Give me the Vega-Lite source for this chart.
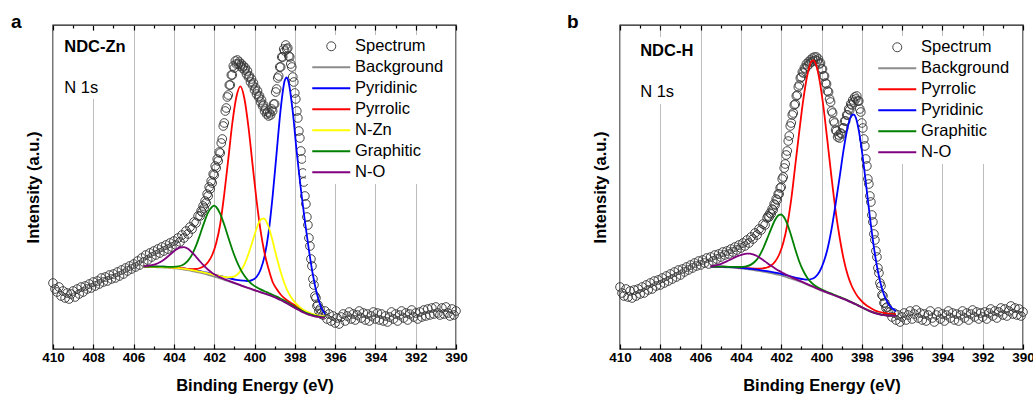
{
"$schema": "https://vega.github.io/schema/vega-lite/v6.json",
"padding": {"left": 10, "top": 12, "right": 0, "bottom": 0},
"bounds": "flush",
"spacing": 164,
"config": {
  "font": "Liberation Sans",
  "view": {"stroke": "#1a1a1a", "strokeWidth": 1.4},
  "title": {"color": "#000"}
},
"resolve": {"scale": {"x": "independent", "y": "independent", "color": "independent"}, "legend": {"color": "independent"}, "axis": {"x": "independent", "y": "independent"}},
"datasets": {
"specA": [
{"E":410.0,"I":66},{"E":409.9,"I":60},{"E":409.8,"I":57},{"E":409.7,"I":62},{"E":409.6,"I":53},{"E":409.5,"I":58},{"E":409.4,"I":51},{"E":409.3,"I":56},{"E":409.2,"I":50},{"E":409.1,"I":55},
{"E":409.0,"I":58},{"E":408.9,"I":52},{"E":408.8,"I":60},{"E":408.7,"I":55},{"E":408.6,"I":62},{"E":408.5,"I":57},{"E":408.4,"I":63},{"E":408.3,"I":60},{"E":408.2,"I":65},{"E":408.1,"I":61},
{"E":408.0,"I":67},{"E":407.9,"I":63},{"E":407.8,"I":68},{"E":407.7,"I":65},{"E":407.6,"I":71},{"E":407.5,"I":67},{"E":407.4,"I":72},{"E":407.3,"I":68},{"E":407.2,"I":74},{"E":407.1,"I":70},
{"E":407.0,"I":75},{"E":406.9,"I":71},{"E":406.8,"I":77},{"E":406.7,"I":73},{"E":406.6,"I":79},{"E":406.5,"I":75},{"E":406.4,"I":81},{"E":406.3,"I":78},{"E":406.2,"I":83},{"E":406.1,"I":80},
{"E":406.0,"I":85},{"E":405.9,"I":82},{"E":405.8,"I":88},{"E":405.7,"I":84},{"E":405.6,"I":91},{"E":405.5,"I":87},{"E":405.4,"I":94},{"E":405.3,"I":89},{"E":405.2,"I":96},{"E":405.1,"I":92},
{"E":405.0,"I":98},{"E":404.9,"I":94},{"E":404.8,"I":100},{"E":404.7,"I":96},{"E":404.6,"I":102},{"E":404.5,"I":98},{"E":404.4,"I":104},{"E":404.3,"I":100},{"E":404.2,"I":106},{"E":404.1,"I":102},
{"E":404.0,"I":108},{"E":403.9,"I":104},{"E":403.8,"I":111},{"E":403.7,"I":107},{"E":403.6,"I":114},{"E":403.5,"I":111},{"E":403.4,"I":118},{"E":403.3,"I":115},{"E":403.2,"I":122},{"E":403.1,"I":120},
{"E":403.0,"I":127},{"E":402.9,"I":126},{"E":402.8,"I":133},{"E":402.7,"I":133},
{"E":402.65,"I":138},{"E":402.6,"I":137},{"E":402.55,"I":143},{"E":402.5,"I":141},{"E":402.45,"I":148},{"E":402.4,"I":146},{"E":402.35,"I":155},{"E":402.3,"I":153},{"E":402.25,"I":162},{"E":402.2,"I":160},
{"E":402.15,"I":168},{"E":402.1,"I":166},{"E":402.05,"I":175},{"E":402.0,"I":174},{"E":401.95,"I":183},{"E":401.9,"I":181},{"E":401.85,"I":190},{"E":401.8,"I":188},{"E":401.75,"I":197},{"E":401.7,"I":196},
{"E":401.65,"I":206},{"E":401.6,"I":210},{"E":401.55,"I":223},{"E":401.5,"I":226},{"E":401.45,"I":238},{"E":401.4,"I":241},{"E":401.35,"I":252},{"E":401.3,"I":254},{"E":401.25,"I":264},{"E":401.2,"I":264},
{"E":401.15,"I":274},{"E":401.1,"I":274},{"E":401.05,"I":283},{"E":401.0,"I":281},{"E":400.95,"I":288},{"E":400.9,"I":285},{"E":400.85,"I":289},{"E":400.8,"I":285},{"E":400.75,"I":287},{"E":400.7,"I":283},
{"E":400.65,"I":285},{"E":400.6,"I":281},{"E":400.55,"I":283},{"E":400.5,"I":279},{"E":400.45,"I":281},{"E":400.4,"I":275},{"E":400.35,"I":278},{"E":400.3,"I":272},{"E":400.25,"I":273},{"E":400.2,"I":267},
{"E":400.15,"I":270},{"E":400.1,"I":264},{"E":400.05,"I":266},{"E":400.0,"I":259},{"E":399.95,"I":261},{"E":399.9,"I":255},{"E":399.85,"I":258},{"E":399.8,"I":252},{"E":399.75,"I":253},{"E":399.7,"I":247},
{"E":399.65,"I":249},{"E":399.6,"I":243},{"E":399.55,"I":244},{"E":399.5,"I":238},{"E":399.45,"I":240},{"E":399.4,"I":235},{"E":399.35,"I":237},{"E":399.3,"I":233},{"E":399.25,"I":236},{"E":399.2,"I":234},
{"E":399.15,"I":240},{"E":399.1,"I":238},{"E":399.05,"I":245},{"E":399.0,"I":245},{"E":398.95,"I":257},{"E":398.9,"I":260},{"E":398.85,"I":271},{"E":398.8,"I":273},{"E":398.75,"I":282},{"E":398.7,"I":282},
{"E":398.65,"I":292},{"E":398.6,"I":292},{"E":398.55,"I":300},{"E":398.5,"I":298},{"E":398.45,"I":304},{"E":398.4,"I":300},{"E":398.35,"I":301},{"E":398.3,"I":293},{"E":398.25,"I":292},{"E":398.2,"I":285},
{"E":398.15,"I":282},{"E":398.1,"I":272},{"E":398.05,"I":267},{"E":398.0,"I":256},{"E":397.95,"I":250},{"E":397.9,"I":238},{"E":397.85,"I":231},{"E":397.8,"I":218},{"E":397.75,"I":211},{"E":397.7,"I":198},
{"E":397.65,"I":190},{"E":397.6,"I":176},{"E":397.55,"I":167},{"E":397.5,"I":153},{"E":397.45,"I":145},{"E":397.4,"I":132},{"E":397.35,"I":124},{"E":397.3,"I":111},{"E":397.25,"I":103},{"E":397.2,"I":90},
{"E":397.15,"I":83},{"E":397.1,"I":70},{"E":397.05,"I":64},{"E":397.0,"I":53},{"E":396.95,"I":51},{"E":396.9,"I":43},{"E":396.85,"I":44},{"E":396.8,"I":38},{"E":396.75,"I":40},{"E":396.7,"I":35},
{"E":396.6,"I":34},{"E":396.5,"I":38},{"E":396.4,"I":30},{"E":396.3,"I":35},{"E":396.2,"I":28},{"E":396.1,"I":33},{"E":396.0,"I":26},{"E":395.9,"I":31},{"E":395.8,"I":25},{"E":395.7,"I":32},
{"E":395.6,"I":35},{"E":395.5,"I":28},{"E":395.4,"I":33},{"E":395.3,"I":37},{"E":395.2,"I":30},{"E":395.1,"I":35},{"E":395.0,"I":29},{"E":394.9,"I":34},{"E":394.8,"I":38},{"E":394.7,"I":31},
{"E":394.6,"I":36},{"E":394.5,"I":29},{"E":394.4,"I":35},{"E":394.3,"I":28},{"E":394.2,"I":33},{"E":394.1,"I":37},{"E":394.0,"I":30},{"E":393.9,"I":36},{"E":393.8,"I":29},{"E":393.7,"I":35},
{"E":393.6,"I":28},{"E":393.5,"I":33},{"E":393.4,"I":27},{"E":393.3,"I":32},{"E":393.2,"I":37},{"E":393.1,"I":30},{"E":393.0,"I":35},{"E":392.9,"I":28},{"E":392.8,"I":34},{"E":392.7,"I":38},
{"E":392.6,"I":31},{"E":392.5,"I":36},{"E":392.4,"I":29},{"E":392.3,"I":35},{"E":392.2,"I":39},{"E":392.1,"I":32},{"E":392.0,"I":36},{"E":391.9,"I":30},{"E":391.8,"I":37},{"E":391.7,"I":32},
{"E":391.6,"I":39},{"E":391.5,"I":33},{"E":391.4,"I":40},{"E":391.3,"I":34},{"E":391.2,"I":41},{"E":391.1,"I":35},{"E":391.0,"I":42},{"E":390.9,"I":36},{"E":390.8,"I":34},{"E":390.7,"I":41},
{"E":390.6,"I":35},{"E":390.5,"I":42},{"E":390.4,"I":36},{"E":390.3,"I":33},{"E":390.2,"I":40},{"E":390.1,"I":34},{"E":390.0,"I":38}
],
"fitA": [
{"s":"Background","E":405.5,"I":82.0},{"s":"Background","E":405.3,"I":82.0},{"s":"Background","E":405.1,"I":81.9},{"s":"Background","E":404.9,"I":81.8},{"s":"Background","E":404.7,"I":81.7},{"s":"Background","E":404.5,"I":81.5},{"s":"Background","E":404.3,"I":81.3},{"s":"Background","E":404.1,"I":81.0},{"s":"Background","E":403.9,"I":80.6},{"s":"Background","E":403.7,"I":80.1},{"s":"Background","E":403.5,"I":79.5},{"s":"Background","E":403.3,"I":78.8},{"s":"Background","E":403.1,"I":78.0},{"s":"Background","E":402.9,"I":77.2},{"s":"Background","E":402.7,"I":76.3},{"s":"Background","E":402.5,"I":75.3},{"s":"Background","E":402.3,"I":74.2},{"s":"Background","E":402.1,"I":73.0},{"s":"Background","E":401.9,"I":71.8},{"s":"Background","E":401.7,"I":70.5},{"s":"Background","E":401.5,"I":69.2},{"s":"Background","E":401.3,"I":67.8},{"s":"Background","E":401.1,"I":66.4},{"s":"Background","E":400.9,"I":65.0},{"s":"Background","E":400.7,"I":63.6},{"s":"Background","E":400.5,"I":62.2},{"s":"Background","E":400.3,"I":60.8},{"s":"Background","E":400.1,"I":59.4},{"s":"Background","E":399.9,"I":58.0},{"s":"Background","E":399.7,"I":56.7},{"s":"Background","E":399.5,"I":55.4},{"s":"Background","E":399.3,"I":54.0},{"s":"Background","E":399.1,"I":52.5},{"s":"Background","E":398.9,"I":50.8},{"s":"Background","E":398.7,"I":48.9},{"s":"Background","E":398.5,"I":46.8},{"s":"Background","E":398.3,"I":44.6},{"s":"Background","E":398.1,"I":42.3},{"s":"Background","E":397.9,"I":40.0},{"s":"Background","E":397.7,"I":37.8},{"s":"Background","E":397.5,"I":35.9},{"s":"Background","E":397.3,"I":34.3},{"s":"Background","E":397.1,"I":33.1},{"s":"Background","E":396.9,"I":32.2},{"s":"Background","E":396.7,"I":31.6},{"s":"Background","E":396.5,"I":31.3},
{"s":"Pyridinic","E":405.5,"I":82.5},{"s":"Pyridinic","E":405.3,"I":82.5},{"s":"Pyridinic","E":405.1,"I":82.5},{"s":"Pyridinic","E":404.9,"I":82.4},{"s":"Pyridinic","E":404.7,"I":82.4},{"s":"Pyridinic","E":404.5,"I":82.25},{"s":"Pyridinic","E":404.3,"I":82.1},{"s":"Pyridinic","E":404.1,"I":81.85},{"s":"Pyridinic","E":403.9,"I":81.5},{"s":"Pyridinic","E":403.7,"I":81.1},{"s":"Pyridinic","E":403.5,"I":80.55},{"s":"Pyridinic","E":403.3,"I":79.9},{"s":"Pyridinic","E":403.1,"I":79.2},{"s":"Pyridinic","E":402.9,"I":78.55},{"s":"Pyridinic","E":402.7,"I":77.8},{"s":"Pyridinic","E":402.5,"I":76.9},{"s":"Pyridinic","E":402.3,"I":76.0},{"s":"Pyridinic","E":402.1,"I":75.0},{"s":"Pyridinic","E":401.9,"I":74.0},{"s":"Pyridinic","E":401.7,"I":73.0},{"s":"Pyridinic","E":401.5,"I":72.0},{"s":"Pyridinic","E":401.3,"I":71.0},{"s":"Pyridinic","E":401.1,"I":70.0},{"s":"Pyridinic","E":400.9,"I":69.2},{"s":"Pyridinic","E":400.7,"I":68.6},{"s":"Pyridinic","E":400.5,"I":68.3},{"s":"Pyridinic","E":400.3,"I":68.0},{"s":"Pyridinic","E":400.1,"I":69.1},{"s":"Pyridinic","E":399.9,"I":72.0},{"s":"Pyridinic","E":399.7,"I":79.3},{"s":"Pyridinic","E":399.5,"I":92.9},{"s":"Pyridinic","E":399.3,"I":116.6},{"s":"Pyridinic","E":399.1,"I":152.8},{"s":"Pyridinic","E":398.9,"I":196.7},{"s":"Pyridinic","E":398.7,"I":240.1},{"s":"Pyridinic","E":398.5,"I":268.5},{"s":"Pyridinic","E":398.4,"I":271.7},{"s":"Pyridinic","E":398.3,"I":266},{"s":"Pyridinic","E":398.1,"I":237},{"s":"Pyridinic","E":397.9,"I":196},{"s":"Pyridinic","E":397.7,"I":160},{"s":"Pyridinic","E":397.5,"I":128},{"s":"Pyridinic","E":397.3,"I":99},{"s":"Pyridinic","E":397.1,"I":74},{"s":"Pyridinic","E":396.9,"I":55},{"s":"Pyridinic","E":396.7,"I":42},{"s":"Pyridinic","E":396.5,"I":35},
{"s":"Pyrrolic","E":405.5,"I":82.5},{"s":"Pyrrolic","E":405.3,"I":82.5},{"s":"Pyrrolic","E":405.1,"I":82.4},{"s":"Pyrrolic","E":404.9,"I":82.3},{"s":"Pyrrolic","E":404.7,"I":82.2},{"s":"Pyrrolic","E":404.5,"I":82.0},{"s":"Pyrrolic","E":404.3,"I":81.8},{"s":"Pyrrolic","E":404.1,"I":81.6},{"s":"Pyrrolic","E":403.9,"I":81.3},{"s":"Pyrrolic","E":403.7,"I":81.0},{"s":"Pyrrolic","E":403.5,"I":80.6},{"s":"Pyrrolic","E":403.3,"I":80.2},{"s":"Pyrrolic","E":403.1,"I":79.9},{"s":"Pyrrolic","E":402.9,"I":80.0},{"s":"Pyrrolic","E":402.7,"I":81.0},{"s":"Pyrrolic","E":402.5,"I":83.0},{"s":"Pyrrolic","E":402.3,"I":87.0},{"s":"Pyrrolic","E":402.1,"I":94.0},{"s":"Pyrrolic","E":401.9,"I":106},{"s":"Pyrrolic","E":401.7,"I":125},{"s":"Pyrrolic","E":401.5,"I":155},{"s":"Pyrrolic","E":401.3,"I":190},{"s":"Pyrrolic","E":401.1,"I":226},{"s":"Pyrrolic","E":400.9,"I":252},{"s":"Pyrrolic","E":400.7,"I":262.6},{"s":"Pyrrolic","E":400.5,"I":250.2},{"s":"Pyrrolic","E":400.3,"I":222},{"s":"Pyrrolic","E":400.1,"I":185.2},{"s":"Pyrrolic","E":399.9,"I":149},{"s":"Pyrrolic","E":399.7,"I":118.4},{"s":"Pyrrolic","E":399.5,"I":95.8},{"s":"Pyrrolic","E":399.3,"I":79.9},{"s":"Pyrrolic","E":399.1,"I":67},{"s":"Pyrrolic","E":398.9,"I":60},{"s":"Pyrrolic","E":398.7,"I":54.5},{"s":"Pyrrolic","E":398.5,"I":50.5},{"s":"Pyrrolic","E":398.3,"I":47.5},{"s":"Pyrrolic","E":398.1,"I":45},{"s":"Pyrrolic","E":397.9,"I":42.5},{"s":"Pyrrolic","E":397.7,"I":40},{"s":"Pyrrolic","E":397.5,"I":37.8},{"s":"Pyrrolic","E":397.3,"I":36},{"s":"Pyrrolic","E":397.1,"I":34.5},{"s":"Pyrrolic","E":396.9,"I":33.4},{"s":"Pyrrolic","E":396.7,"I":32.5},{"s":"Pyrrolic","E":396.5,"I":32},
{"s":"N-Zn","E":405.5,"I":82.3},{"s":"N-Zn","E":405.3,"I":82.3},{"s":"N-Zn","E":405.1,"I":82.2},{"s":"N-Zn","E":404.9,"I":82.1},{"s":"N-Zn","E":404.7,"I":82.0},{"s":"N-Zn","E":404.5,"I":81.9},{"s":"N-Zn","E":404.3,"I":81.7},{"s":"N-Zn","E":404.1,"I":81.5},{"s":"N-Zn","E":403.9,"I":81.2},{"s":"N-Zn","E":403.7,"I":80.7},{"s":"N-Zn","E":403.5,"I":80.2},{"s":"N-Zn","E":403.3,"I":79.6},{"s":"N-Zn","E":403.1,"I":78.9},{"s":"N-Zn","E":402.9,"I":78.2},{"s":"N-Zn","E":402.7,"I":77.4},{"s":"N-Zn","E":402.5,"I":76.5},{"s":"N-Zn","E":402.3,"I":75.6},{"s":"N-Zn","E":402.1,"I":74.6},{"s":"N-Zn","E":401.9,"I":73.8},{"s":"N-Zn","E":401.7,"I":72.8},{"s":"N-Zn","E":401.5,"I":72.0},{"s":"N-Zn","E":401.3,"I":71.6},{"s":"N-Zn","E":401.1,"I":72.0},{"s":"N-Zn","E":400.9,"I":73.7},{"s":"N-Zn","E":400.7,"I":77.9},{"s":"N-Zn","E":400.5,"I":84.7},{"s":"N-Zn","E":400.3,"I":95.0},{"s":"N-Zn","E":400.1,"I":107.4},{"s":"N-Zn","E":399.9,"I":120.2},{"s":"N-Zn","E":399.7,"I":129.2},{"s":"N-Zn","E":399.55,"I":130.5},{"s":"N-Zn","E":399.5,"I":130.1},{"s":"N-Zn","E":399.3,"I":122.2},{"s":"N-Zn","E":399.1,"I":108.0},{"s":"N-Zn","E":398.9,"I":91.7},{"s":"N-Zn","E":398.7,"I":77.0},{"s":"N-Zn","E":398.5,"I":64.8},{"s":"N-Zn","E":398.3,"I":55.7},{"s":"N-Zn","E":398.1,"I":49.4},{"s":"N-Zn","E":397.9,"I":44.5},{"s":"N-Zn","E":397.7,"I":41.1},{"s":"N-Zn","E":397.5,"I":38.4},{"s":"N-Zn","E":397.3,"I":36.4},{"s":"N-Zn","E":397.1,"I":34.8},{"s":"N-Zn","E":396.9,"I":33.7},{"s":"N-Zn","E":396.7,"I":32.9},{"s":"N-Zn","E":396.5,"I":32.5},
{"s":"Graphitic","E":405.5,"I":82.4},{"s":"Graphitic","E":405.3,"I":82.4},{"s":"Graphitic","E":405.1,"I":82.4},{"s":"Graphitic","E":404.9,"I":82.4},{"s":"Graphitic","E":404.7,"I":82.4},{"s":"Graphitic","E":404.5,"I":82.3},{"s":"Graphitic","E":404.3,"I":82.2},{"s":"Graphitic","E":404.1,"I":82.2},{"s":"Graphitic","E":403.9,"I":82.4},{"s":"Graphitic","E":403.7,"I":83.0},{"s":"Graphitic","E":403.5,"I":84.8},{"s":"Graphitic","E":403.3,"I":88.4},{"s":"Graphitic","E":403.1,"I":94.4},{"s":"Graphitic","E":402.9,"I":103.3},{"s":"Graphitic","E":402.7,"I":114.5},{"s":"Graphitic","E":402.5,"I":126.4},{"s":"Graphitic","E":402.3,"I":136.6},{"s":"Graphitic","E":402.1,"I":142.2},{"s":"Graphitic","E":402.0,"I":143.4},{"s":"Graphitic","E":401.9,"I":142},{"s":"Graphitic","E":401.7,"I":135.1},{"s":"Graphitic","E":401.5,"I":124.2},{"s":"Graphitic","E":401.3,"I":111.5},{"s":"Graphitic","E":401.1,"I":99.3},{"s":"Graphitic","E":400.9,"I":88.6},{"s":"Graphitic","E":400.7,"I":79.9},{"s":"Graphitic","E":400.5,"I":73.2},{"s":"Graphitic","E":400.3,"I":68.2},{"s":"Graphitic","E":400.1,"I":64.4},{"s":"Graphitic","E":399.9,"I":61.8},{"s":"Graphitic","E":399.7,"I":59.6},{"s":"Graphitic","E":399.5,"I":57.7},{"s":"Graphitic","E":399.3,"I":56},{"s":"Graphitic","E":399.1,"I":54.3},{"s":"Graphitic","E":398.9,"I":52.4},{"s":"Graphitic","E":398.7,"I":50.3},{"s":"Graphitic","E":398.5,"I":48.1},{"s":"Graphitic","E":398.3,"I":45.8},{"s":"Graphitic","E":398.1,"I":43.4},{"s":"Graphitic","E":397.9,"I":41},{"s":"Graphitic","E":397.7,"I":38.7},{"s":"Graphitic","E":397.5,"I":36.7},{"s":"Graphitic","E":397.3,"I":35.1},{"s":"Graphitic","E":397.1,"I":33.8},{"s":"Graphitic","E":396.9,"I":32.9},{"s":"Graphitic","E":396.7,"I":32.2},{"s":"Graphitic","E":396.5,"I":31.9},
{"s":"N-O","E":405.5,"I":82.7},{"s":"N-O","E":405.3,"I":83.1},{"s":"N-O","E":405.1,"I":83.8},{"s":"N-O","E":404.9,"I":84.9},{"s":"N-O","E":404.7,"I":86.7},{"s":"N-O","E":404.5,"I":89.3},{"s":"N-O","E":404.3,"I":92.5},{"s":"N-O","E":404.1,"I":96},{"s":"N-O","E":403.9,"I":99.2},{"s":"N-O","E":403.7,"I":101.5},{"s":"N-O","E":403.5,"I":101.9},{"s":"N-O","E":403.3,"I":100.2},{"s":"N-O","E":403.1,"I":96.6},{"s":"N-O","E":402.9,"I":92.2},{"s":"N-O","E":402.7,"I":87.5},{"s":"N-O","E":402.5,"I":83.1},{"s":"N-O","E":402.3,"I":79.2},{"s":"N-O","E":402.1,"I":76.1},{"s":"N-O","E":401.9,"I":73.7},{"s":"N-O","E":401.7,"I":71.6},{"s":"N-O","E":401.5,"I":69.9},{"s":"N-O","E":401.3,"I":68.3},{"s":"N-O","E":401.1,"I":66.8},{"s":"N-O","E":400.9,"I":65.3},{"s":"N-O","E":400.7,"I":63.8},{"s":"N-O","E":400.5,"I":62.4},{"s":"N-O","E":400.3,"I":61.0},{"s":"N-O","E":400.1,"I":59.6},{"s":"N-O","E":399.9,"I":58.2},{"s":"N-O","E":399.7,"I":56.9},{"s":"N-O","E":399.5,"I":55.5},{"s":"N-O","E":399.3,"I":54.1},{"s":"N-O","E":399.1,"I":52.6},{"s":"N-O","E":398.9,"I":50.9},{"s":"N-O","E":398.7,"I":49.0},{"s":"N-O","E":398.5,"I":46.9},{"s":"N-O","E":398.3,"I":44.7},{"s":"N-O","E":398.1,"I":42.4},{"s":"N-O","E":397.9,"I":40.1},{"s":"N-O","E":397.7,"I":37.9},{"s":"N-O","E":397.5,"I":36.0},{"s":"N-O","E":397.3,"I":34.4},{"s":"N-O","E":397.1,"I":33.2},{"s":"N-O","E":396.9,"I":32.3},{"s":"N-O","E":396.7,"I":31.7},{"s":"N-O","E":396.5,"I":31.4}
],
"specB": [
{"E":410.0,"I":62},{"E":409.9,"I":56},{"E":409.8,"I":53},{"E":409.7,"I":60},{"E":409.6,"I":52},{"E":409.5,"I":58},{"E":409.4,"I":51},{"E":409.3,"I":59},{"E":409.2,"I":53},{"E":409.1,"I":60},
{"E":409.0,"I":55},{"E":408.9,"I":62},{"E":408.8,"I":56},{"E":408.7,"I":64},{"E":408.6,"I":59},{"E":408.5,"I":66},{"E":408.4,"I":60},{"E":408.3,"I":68},{"E":408.2,"I":63},{"E":408.1,"I":69},
{"E":408.0,"I":64},{"E":407.9,"I":71},{"E":407.8,"I":66},{"E":407.7,"I":73},{"E":407.6,"I":68},{"E":407.5,"I":75},{"E":407.4,"I":70},{"E":407.3,"I":77},{"E":407.2,"I":72},{"E":407.1,"I":79},
{"E":407.0,"I":74},{"E":406.9,"I":80},{"E":406.8,"I":77},{"E":406.7,"I":82},{"E":406.6,"I":79},{"E":406.5,"I":84},{"E":406.4,"I":81},{"E":406.3,"I":86},{"E":406.2,"I":83},{"E":406.1,"I":88},
{"E":406.0,"I":84},{"E":405.9,"I":89},{"E":405.8,"I":86},{"E":405.7,"I":91},{"E":405.6,"I":85},{"E":405.5,"I":92},{"E":405.4,"I":88},{"E":405.3,"I":94},{"E":405.2,"I":90},{"E":405.1,"I":95},
{"E":405.0,"I":92},{"E":404.9,"I":97},{"E":404.8,"I":94},{"E":404.7,"I":98},{"E":404.6,"I":95},{"E":404.5,"I":100},{"E":404.4,"I":97},{"E":404.3,"I":102},{"E":404.2,"I":99},{"E":404.1,"I":104},
{"E":404.0,"I":101},{"E":403.9,"I":106},{"E":403.8,"I":103},{"E":403.7,"I":109},{"E":403.6,"I":106},{"E":403.5,"I":112},{"E":403.4,"I":110},{"E":403.3,"I":116},{"E":403.2,"I":114},{"E":403.1,"I":120},
{"E":403.0,"I":119},{"E":402.9,"I":125},{"E":402.8,"I":124},{"E":402.7,"I":131},
{"E":402.65,"I":133},{"E":402.6,"I":132},{"E":402.55,"I":136},{"E":402.5,"I":135},{"E":402.45,"I":140},{"E":402.4,"I":139},{"E":402.35,"I":145},{"E":402.3,"I":144},{"E":402.25,"I":150},{"E":402.2,"I":149},
{"E":402.15,"I":155},{"E":402.1,"I":155},{"E":402.05,"I":161},{"E":402.0,"I":162},{"E":401.95,"I":170},{"E":401.9,"I":172},{"E":401.85,"I":181},{"E":401.8,"I":185},{"E":401.75,"I":194},{"E":401.7,"I":198},
{"E":401.65,"I":208},{"E":401.6,"I":213},{"E":401.55,"I":223},{"E":401.5,"I":226},{"E":401.45,"I":234},{"E":401.4,"I":236},{"E":401.35,"I":244},{"E":401.3,"I":245},{"E":401.25,"I":253},{"E":401.2,"I":254},
{"E":401.15,"I":262},{"E":401.1,"I":264},{"E":401.05,"I":271},{"E":401.0,"I":272},{"E":400.95,"I":277},{"E":400.9,"I":276},{"E":400.85,"I":281},{"E":400.8,"I":280},{"E":400.75,"I":285},{"E":400.7,"I":283},
{"E":400.65,"I":287},{"E":400.6,"I":285},{"E":400.55,"I":289},{"E":400.5,"I":287},{"E":400.45,"I":291},{"E":400.4,"I":288},{"E":400.35,"I":292},{"E":400.3,"I":289},{"E":400.25,"I":292},{"E":400.2,"I":288},
{"E":400.15,"I":290},{"E":400.1,"I":285},{"E":400.05,"I":286},{"E":400.0,"I":280},{"E":399.95,"I":280},{"E":399.9,"I":273},{"E":399.85,"I":273},{"E":399.8,"I":266},{"E":399.75,"I":265},{"E":399.7,"I":258},
{"E":399.65,"I":257},{"E":399.6,"I":250},{"E":399.55,"I":247},{"E":399.5,"I":238},{"E":399.45,"I":236},{"E":399.4,"I":228},{"E":399.35,"I":226},{"E":399.3,"I":219},{"E":399.25,"I":218},{"E":399.2,"I":212},
{"E":399.15,"I":214},{"E":399.1,"I":211},{"E":399.05,"I":216},{"E":399.0,"I":215},{"E":398.95,"I":221},{"E":398.9,"I":221},{"E":398.85,"I":228},{"E":398.8,"I":228},{"E":398.75,"I":234},{"E":398.7,"I":234},
{"E":398.65,"I":240},{"E":398.6,"I":239},{"E":398.55,"I":245},{"E":398.5,"I":244},{"E":398.45,"I":249},{"E":398.4,"I":247},{"E":398.35,"I":252},{"E":398.3,"I":250},{"E":398.25,"I":253},{"E":398.2,"I":248},
{"E":398.15,"I":248},{"E":398.1,"I":240},{"E":398.05,"I":237},{"E":398.0,"I":226},{"E":397.95,"I":221},{"E":397.9,"I":210},{"E":397.85,"I":203},{"E":397.8,"I":190},{"E":397.75,"I":183},{"E":397.7,"I":170},
{"E":397.65,"I":165},{"E":397.6,"I":153},{"E":397.55,"I":147},{"E":397.5,"I":134},{"E":397.45,"I":127},{"E":397.4,"I":115},{"E":397.35,"I":109},{"E":397.3,"I":98},{"E":397.25,"I":92},{"E":397.2,"I":81},
{"E":397.15,"I":76},{"E":397.1,"I":66},{"E":397.05,"I":63},{"E":397.0,"I":54},{"E":396.95,"I":53},{"E":396.9,"I":46},{"E":396.85,"I":46},{"E":396.8,"I":41},{"E":396.75,"I":42},{"E":396.7,"I":37},
{"E":396.6,"I":37},{"E":396.5,"I":32},{"E":396.4,"I":36},{"E":396.3,"I":29},{"E":396.2,"I":34},{"E":396.1,"I":27},{"E":396.0,"I":32},{"E":395.9,"I":36},{"E":395.8,"I":29},{"E":395.7,"I":34},
{"E":395.6,"I":38},{"E":395.5,"I":30},{"E":395.4,"I":35},{"E":395.3,"I":39},{"E":395.2,"I":31},{"E":395.1,"I":36},{"E":395.0,"I":29},{"E":394.9,"I":35},{"E":394.8,"I":28},{"E":394.7,"I":34},
{"E":394.6,"I":38},{"E":394.5,"I":31},{"E":394.4,"I":27},{"E":394.3,"I":34},{"E":394.2,"I":37},{"E":394.1,"I":30},{"E":394.0,"I":35},{"E":393.9,"I":28},{"E":393.8,"I":34},{"E":393.7,"I":38},
{"E":393.6,"I":31},{"E":393.5,"I":36},{"E":393.4,"I":29},{"E":393.3,"I":35},{"E":393.2,"I":28},{"E":393.1,"I":34},{"E":393.0,"I":38},{"E":392.9,"I":31},{"E":392.8,"I":36},{"E":392.7,"I":29},
{"E":392.6,"I":35},{"E":392.5,"I":39},{"E":392.4,"I":32},{"E":392.3,"I":37},{"E":392.2,"I":30},{"E":392.1,"I":36},{"E":392.0,"I":32},{"E":391.9,"I":37},{"E":391.8,"I":30},{"E":391.7,"I":36},
{"E":391.6,"I":40},{"E":391.5,"I":33},{"E":391.4,"I":38},{"E":391.3,"I":31},{"E":391.2,"I":37},{"E":391.1,"I":41},{"E":391.0,"I":34},{"E":390.9,"I":40},{"E":390.8,"I":33},{"E":390.7,"I":38},
{"E":390.6,"I":43},{"E":390.5,"I":35},{"E":390.4,"I":41},{"E":390.3,"I":34},{"E":390.2,"I":40},{"E":390.1,"I":33},{"E":390.0,"I":37}
],
"fitB": [
{"s":"Background","E":405.5,"I":82.0},{"s":"Background","E":405.3,"I":82.0},{"s":"Background","E":405.1,"I":81.9},{"s":"Background","E":404.9,"I":81.8},{"s":"Background","E":404.7,"I":81.6},{"s":"Background","E":404.5,"I":81.4},{"s":"Background","E":404.3,"I":81.1},{"s":"Background","E":404.1,"I":80.7},{"s":"Background","E":403.9,"I":80.3},{"s":"Background","E":403.7,"I":79.8},{"s":"Background","E":403.5,"I":79.3},{"s":"Background","E":403.3,"I":78.7},{"s":"Background","E":403.1,"I":78.1},{"s":"Background","E":402.9,"I":77.4},{"s":"Background","E":402.7,"I":76.7},{"s":"Background","E":402.5,"I":75.9},{"s":"Background","E":402.3,"I":75.0},{"s":"Background","E":402.1,"I":74.0},{"s":"Background","E":401.9,"I":72.9},{"s":"Background","E":401.7,"I":71.7},{"s":"Background","E":401.5,"I":70.4},{"s":"Background","E":401.3,"I":69.0},{"s":"Background","E":401.1,"I":67.5},{"s":"Background","E":400.9,"I":66.0},{"s":"Background","E":400.7,"I":64.3},{"s":"Background","E":400.5,"I":62.6},{"s":"Background","E":400.3,"I":60.9},{"s":"Background","E":400.1,"I":59.2},{"s":"Background","E":399.9,"I":57.6},{"s":"Background","E":399.7,"I":56.0},{"s":"Background","E":399.5,"I":54.5},{"s":"Background","E":399.3,"I":53.0},{"s":"Background","E":399.1,"I":51.5},{"s":"Background","E":398.9,"I":49.9},{"s":"Background","E":398.7,"I":48.2},{"s":"Background","E":398.5,"I":46.4},{"s":"Background","E":398.3,"I":44.5},{"s":"Background","E":398.1,"I":42.5},{"s":"Background","E":397.9,"I":40.5},{"s":"Background","E":397.7,"I":38.6},{"s":"Background","E":397.5,"I":36.9},{"s":"Background","E":397.3,"I":35.5},{"s":"Background","E":397.1,"I":34.5},{"s":"Background","E":396.9,"I":33.8},{"s":"Background","E":396.7,"I":33.4},{"s":"Background","E":396.5,"I":33.2},{"s":"Background","E":396.3,"I":33.1},
{"s":"Pyrrolic","E":405.5,"I":82.5},{"s":"Pyrrolic","E":405.3,"I":82.5},{"s":"Pyrrolic","E":405.1,"I":82.4},{"s":"Pyrrolic","E":404.9,"I":82.3},{"s":"Pyrrolic","E":404.7,"I":82.2},{"s":"Pyrrolic","E":404.5,"I":82.0},{"s":"Pyrrolic","E":404.3,"I":81.8},{"s":"Pyrrolic","E":404.1,"I":81.5},{"s":"Pyrrolic","E":403.9,"I":81.2},{"s":"Pyrrolic","E":403.7,"I":80.9},{"s":"Pyrrolic","E":403.5,"I":80.6},{"s":"Pyrrolic","E":403.3,"I":80.4},{"s":"Pyrrolic","E":403.1,"I":80.4},{"s":"Pyrrolic","E":402.9,"I":80.7},{"s":"Pyrrolic","E":402.7,"I":81.5},{"s":"Pyrrolic","E":402.5,"I":83.5},{"s":"Pyrrolic","E":402.3,"I":87.5},{"s":"Pyrrolic","E":402.1,"I":94.5},{"s":"Pyrrolic","E":401.9,"I":106},{"s":"Pyrrolic","E":401.7,"I":124},{"s":"Pyrrolic","E":401.5,"I":150},{"s":"Pyrrolic","E":401.3,"I":184},{"s":"Pyrrolic","E":401.1,"I":218},{"s":"Pyrrolic","E":400.9,"I":249.9},{"s":"Pyrrolic","E":400.7,"I":274.3},{"s":"Pyrrolic","E":400.5,"I":287.6},{"s":"Pyrrolic","E":400.4,"I":288.7},{"s":"Pyrrolic","E":400.3,"I":285.9},{"s":"Pyrrolic","E":400.1,"I":269.2},{"s":"Pyrrolic","E":399.9,"I":241.5},{"s":"Pyrrolic","E":399.7,"I":207},{"s":"Pyrrolic","E":399.5,"I":171.2},{"s":"Pyrrolic","E":399.3,"I":138.1},{"s":"Pyrrolic","E":399.1,"I":111.5},{"s":"Pyrrolic","E":398.9,"I":89.9},{"s":"Pyrrolic","E":398.7,"I":73.9},{"s":"Pyrrolic","E":398.5,"I":63},{"s":"Pyrrolic","E":398.3,"I":55.4},{"s":"Pyrrolic","E":398.1,"I":49.8},{"s":"Pyrrolic","E":397.9,"I":45.7},{"s":"Pyrrolic","E":397.7,"I":42.7},{"s":"Pyrrolic","E":397.5,"I":40.2},{"s":"Pyrrolic","E":397.3,"I":38.2},{"s":"Pyrrolic","E":397.1,"I":37},{"s":"Pyrrolic","E":396.9,"I":36},{"s":"Pyrrolic","E":396.7,"I":35.4},{"s":"Pyrrolic","E":396.5,"I":35.1},{"s":"Pyrrolic","E":396.3,"I":34.8},
{"s":"Pyridinic","E":405.5,"I":82.5},{"s":"Pyridinic","E":405.3,"I":82.5},{"s":"Pyridinic","E":405.1,"I":82.4},{"s":"Pyridinic","E":404.9,"I":82.3},{"s":"Pyridinic","E":404.7,"I":82.15},{"s":"Pyridinic","E":404.5,"I":82.0},{"s":"Pyridinic","E":404.3,"I":81.7},{"s":"Pyridinic","E":404.1,"I":81.4},{"s":"Pyridinic","E":403.9,"I":81.0},{"s":"Pyridinic","E":403.7,"I":80.6},{"s":"Pyridinic","E":403.5,"I":80.1},{"s":"Pyridinic","E":403.3,"I":79.6},{"s":"Pyridinic","E":403.1,"I":79.05},{"s":"Pyridinic","E":402.9,"I":78.4},{"s":"Pyridinic","E":402.7,"I":77.8},{"s":"Pyridinic","E":402.5,"I":77.2},{"s":"Pyridinic","E":402.3,"I":76.4},{"s":"Pyridinic","E":402.1,"I":75.6},{"s":"Pyridinic","E":401.9,"I":74.6},{"s":"Pyridinic","E":401.7,"I":73.6},{"s":"Pyridinic","E":401.5,"I":72.5},{"s":"Pyridinic","E":401.3,"I":71.4},{"s":"Pyridinic","E":401.1,"I":70.5},{"s":"Pyridinic","E":400.9,"I":69.8},{"s":"Pyridinic","E":400.7,"I":69.4},{"s":"Pyridinic","E":400.5,"I":70.0},{"s":"Pyridinic","E":400.3,"I":72.2},{"s":"Pyridinic","E":400.1,"I":77.3},{"s":"Pyridinic","E":399.9,"I":86.5},{"s":"Pyridinic","E":399.7,"I":100.2},{"s":"Pyridinic","E":399.5,"I":120.1},{"s":"Pyridinic","E":399.3,"I":145},{"s":"Pyridinic","E":399.1,"I":171.9},{"s":"Pyridinic","E":398.9,"I":199.6},{"s":"Pyridinic","E":398.7,"I":221.7},{"s":"Pyridinic","E":398.5,"I":233.7},{"s":"Pyridinic","E":398.4,"I":234.5},{"s":"Pyridinic","E":398.3,"I":231.5},{"s":"Pyridinic","E":398.1,"I":212.7},{"s":"Pyridinic","E":397.9,"I":183.4},{"s":"Pyridinic","E":397.7,"I":149.2},{"s":"Pyridinic","E":397.5,"I":116.3},{"s":"Pyridinic","E":397.3,"I":88.6},{"s":"Pyridinic","E":397.1,"I":68.1},{"s":"Pyridinic","E":396.9,"I":54.2},{"s":"Pyridinic","E":396.7,"I":45.7},{"s":"Pyridinic","E":396.5,"I":40.8},{"s":"Pyridinic","E":396.3,"I":38},
{"s":"Graphitic","E":405.5,"I":82.5},{"s":"Graphitic","E":405.3,"I":82.5},{"s":"Graphitic","E":405.1,"I":82.4},{"s":"Graphitic","E":404.9,"I":82.4},{"s":"Graphitic","E":404.7,"I":82.25},{"s":"Graphitic","E":404.5,"I":82.2},{"s":"Graphitic","E":404.3,"I":82.1},{"s":"Graphitic","E":404.1,"I":82.0},{"s":"Graphitic","E":403.9,"I":82.1},{"s":"Graphitic","E":403.7,"I":82.8},{"s":"Graphitic","E":403.5,"I":84.4},{"s":"Graphitic","E":403.3,"I":87.5},{"s":"Graphitic","E":403.1,"I":92.6},{"s":"Graphitic","E":402.9,"I":100.3},{"s":"Graphitic","E":402.7,"I":110.1},{"s":"Graphitic","E":402.5,"I":120.2},{"s":"Graphitic","E":402.3,"I":129.3},{"s":"Graphitic","E":402.1,"I":134.1},{"s":"Graphitic","E":402.0,"I":134.5},{"s":"Graphitic","E":401.9,"I":132.9},{"s":"Graphitic","E":401.7,"I":125.2},{"s":"Graphitic","E":401.5,"I":113.1},{"s":"Graphitic","E":401.3,"I":99.5},{"s":"Graphitic","E":401.1,"I":87.3},{"s":"Graphitic","E":400.9,"I":78},{"s":"Graphitic","E":400.7,"I":71.1},{"s":"Graphitic","E":400.5,"I":66.4},{"s":"Graphitic","E":400.3,"I":63.1},{"s":"Graphitic","E":400.1,"I":60.7},{"s":"Graphitic","E":399.9,"I":58.6},{"s":"Graphitic","E":399.7,"I":56.9},{"s":"Graphitic","E":399.5,"I":55.3},{"s":"Graphitic","E":399.3,"I":53.7},{"s":"Graphitic","E":399.1,"I":52.1},{"s":"Graphitic","E":398.9,"I":50.4},{"s":"Graphitic","E":398.7,"I":48.7},{"s":"Graphitic","E":398.5,"I":46.8},{"s":"Graphitic","E":398.3,"I":44.9},{"s":"Graphitic","E":398.1,"I":42.9},{"s":"Graphitic","E":397.9,"I":40.8},{"s":"Graphitic","E":397.7,"I":38.9},{"s":"Graphitic","E":397.5,"I":37.2},{"s":"Graphitic","E":397.3,"I":35.8},{"s":"Graphitic","E":397.1,"I":34.8},{"s":"Graphitic","E":396.9,"I":34.1},{"s":"Graphitic","E":396.7,"I":33.7},{"s":"Graphitic","E":396.5,"I":33.5},{"s":"Graphitic","E":396.3,"I":33.4},
{"s":"N-O","E":405.5,"I":82.6},{"s":"N-O","E":405.3,"I":83.3},{"s":"N-O","E":405.1,"I":84.4},{"s":"N-O","E":404.9,"I":85.9},{"s":"N-O","E":404.7,"I":87.6},{"s":"N-O","E":404.5,"I":89.6},{"s":"N-O","E":404.3,"I":91.6},{"s":"N-O","E":404.1,"I":93.3},{"s":"N-O","E":403.9,"I":94.7},{"s":"N-O","E":403.7,"I":95.3},{"s":"N-O","E":403.55,"I":95.3},{"s":"N-O","E":403.5,"I":95.1},{"s":"N-O","E":403.3,"I":93.8},{"s":"N-O","E":403.1,"I":91.7},{"s":"N-O","E":402.9,"I":89},{"s":"N-O","E":402.7,"I":86.1},{"s":"N-O","E":402.5,"I":83.3},{"s":"N-O","E":402.3,"I":80.6},{"s":"N-O","E":402.1,"I":78.1},{"s":"N-O","E":401.9,"I":75.9},{"s":"N-O","E":401.7,"I":73.8},{"s":"N-O","E":401.5,"I":71.9},{"s":"N-O","E":401.3,"I":70.1},{"s":"N-O","E":401.1,"I":68.35},{"s":"N-O","E":400.9,"I":66.7},{"s":"N-O","E":400.7,"I":64.85},{"s":"N-O","E":400.5,"I":63.1},{"s":"N-O","E":400.3,"I":61.3},{"s":"N-O","E":400.1,"I":59.55},{"s":"N-O","E":399.9,"I":57.9},{"s":"N-O","E":399.7,"I":56.3},{"s":"N-O","E":399.5,"I":54.75},{"s":"N-O","E":399.3,"I":53.25},{"s":"N-O","E":399.1,"I":51.7},{"s":"N-O","E":398.9,"I":50.1},{"s":"N-O","E":398.7,"I":48.4},{"s":"N-O","E":398.5,"I":46.6},{"s":"N-O","E":398.3,"I":44.7},{"s":"N-O","E":398.1,"I":42.7},{"s":"N-O","E":397.9,"I":40.7},{"s":"N-O","E":397.7,"I":38.75},{"s":"N-O","E":397.5,"I":37.05},{"s":"N-O","E":397.3,"I":35.6},{"s":"N-O","E":397.1,"I":34.6},{"s":"N-O","E":396.9,"I":33.9},{"s":"N-O","E":396.7,"I":33.5},{"s":"N-O","E":396.5,"I":33.3},{"s":"N-O","E":396.3,"I":33.2}
]
},
"hconcat": [
{
  "width": 403, "height": 324,
  "title": {"text": "a", "anchor": "start", "frame": "group", "dx": -42, "offset": -23, "baseline": "alphabetic", "fontSize": 19, "fontWeight": "bold"},
  "resolve": {"axis": {"x": "independent"}},
  "layer": [
    {
      "data": {"values": [{"E1": 409.6, "E2": 406.1, "I1": 250, "I2": 318}]},
      "mark": {"type": "rect", "fill": "white"},
      "encoding": {
        "x": {"field": "E1", "type": "quantitative", "scale": {"domain": [390, 410], "reverse": true, "nice": false, "zero": false}, "axis": null},
        "x2": {"field": "E2"},
        "y": {"field": "I1", "type": "quantitative", "scale": {"domain": [0, 324], "nice": false, "zero": false}},
        "y2": {"field": "I2"}
      }
    },
    {
      "data": {"name": "specA"},
      "mark": {"type": "point", "filled": false, "size": 75, "strokeWidth": 0.9, "opacity": 1},
      "encoding": {
        "x": {"field": "E", "type": "quantitative", "scale": {"domain": [390, 410], "reverse": true, "nice": false, "zero": false},
          "axis": {"orient": "bottom", "values": [410,409,408,407,406,405,404,403,402,401,400,399,398,397,396,395,394,393,392,391,390], "format": "d",
            "title": "Binding Energy (eV)", "titleFontSize": 16.5, "titleFontWeight": "bold", "titleColor": "#000", "titlePadding": 12,
            "labelFontSize": 13.5, "labelFontWeight": "bold", "labelColor": "#000", "labelPadding": 6, "labelFlush": false, "labelOverlap": false,
            "labelExpr": "datum.value % 2 === 0 ? datum.label : ''",
            "domain": false, "tickColor": "#000", "tickWidth": 1.2,
            "tickSize": {"condition": {"test": "datum.value % 2 === 0", "value": -5}, "value": -3},
            "grid": true, "gridColor": "#bdbdbd", "gridWidth": 1,
            "gridOpacity": {"condition": {"test": "datum.value % 2 === 0", "value": 1}, "value": 0}}},
        "y": {"field": "I", "type": "quantitative", "scale": {"domain": [0, 324], "nice": false, "zero": false},
          "axis": {"title": "Intensity (a.u.)", "titleFontSize": 16.5, "titleFontWeight": "bold", "titleColor": "#000", "titlePadding": 12, "labels": false, "ticks": false, "domain": false, "grid": false}},
        "color": {"datum": "Spectrum", "type": "nominal",
          "scale": {"domain": ["Spectrum", "Background", "Pyridinic", "Pyrrolic", "N-Zn", "Graphitic", "N-O"], "range": ["#333333", "#8c8c8c", "#0000ff", "#ff0000", "#ffff00", "#008000", "#800080"]}}
      }
    },
    {
      "data": {"name": "fitA"},
      "mark": {"type": "line", "strokeWidth": 1.8, "interpolate": "monotone"},
      "encoding": {
        "x": {"field": "E", "type": "quantitative", "scale": {"domain": [390, 410], "reverse": true, "nice": false, "zero": false},
          "axis": {"orient": "top", "values": [410,409,408,407,406,405,404,403,402,401,400,399,398,397,396,395,394,393,392,391,390], "labels": false, "title": null, "domain": false, "grid": false, "tickColor": "#000", "tickWidth": 1.2,
            "tickSize": {"condition": {"test": "datum.value % 2 === 0", "value": -5}, "value": -3}}},
        "y": {"field": "I", "type": "quantitative", "scale": {"domain": [0, 324], "nice": false, "zero": false}},
        "color": {"field": "s", "type": "nominal",
          "scale": {"domain": ["Spectrum", "Background", "Pyridinic", "Pyrrolic", "N-Zn", "Graphitic", "N-O"], "range": ["#333333", "#8c8c8c", "#0000ff", "#ff0000", "#ffff00", "#008000", "#800080"]},
          "legend": {"title": null, "orient": "none", "legendX": 253, "legendY": 10, "fillColor": "white", "padding": 3, "symbolSize": 100, "labelFontSize": 16.5, "labelColor": "#000", "labelOffset": 29.5, "rowPadding": 4, "symbolStrokeWidth": 2,
            "encode": {"symbols": {"update": {
              "shape": {"signal": "datum.value === 'Spectrum' ? 'M 3.7,0 A 0.9,0.9 0 1,1 1.9,0 A 0.9,0.9 0 1,1 3.7,0 Z' : 'M -1,0 L 6.6,0'"},
              "strokeWidth": {"signal": "datum.value === 'Spectrum' ? 0.9 : 2"},
              "fill": {"value": "transparent"}}}}}}
      }
    },
    {
      "data": {"values": [{"label": "NDC-Zn", "E": 409.44, "I": 297.5}]},
      "mark": {"type": "text", "align": "left", "baseline": "alphabetic", "fontSize": 16.5, "fontWeight": "bold", "color": "#000"},
      "encoding": {
        "x": {"field": "E", "type": "quantitative", "scale": {"domain": [390, 410], "reverse": true, "nice": false, "zero": false}, "axis": null},
        "y": {"field": "I", "type": "quantitative", "scale": {"domain": [0, 324], "nice": false, "zero": false}},
        "text": {"field": "label"}
      }
    },
    {
      "data": {"values": [{"label": "N 1s", "E": 409.44, "I": 256.5}]},
      "mark": {"type": "text", "align": "left", "baseline": "alphabetic", "fontSize": 16.5, "color": "#000"},
      "encoding": {
        "x": {"field": "E", "type": "quantitative", "scale": {"domain": [390, 410], "reverse": true, "nice": false, "zero": false}, "axis": null},
        "y": {"field": "I", "type": "quantitative", "scale": {"domain": [0, 324], "nice": false, "zero": false}},
        "text": {"field": "label"}
      }
    }
  ]
},
{
  "width": 403, "height": 324,
  "title": {"text": "b", "anchor": "start", "frame": "group", "dx": -53, "offset": -23, "baseline": "alphabetic", "fontSize": 19, "fontWeight": "bold"},
  "resolve": {"axis": {"x": "independent"}},
  "layer": [
    {
      "data": {"values": [{"E1": 409.2, "E2": 406.2, "I1": 245, "I2": 312}]},
      "mark": {"type": "rect", "fill": "white"},
      "encoding": {
        "x": {"field": "E1", "type": "quantitative", "scale": {"domain": [390, 410], "reverse": true, "nice": false, "zero": false}, "axis": null},
        "x2": {"field": "E2"},
        "y": {"field": "I1", "type": "quantitative", "scale": {"domain": [0, 324], "nice": false, "zero": false}},
        "y2": {"field": "I2"}
      }
    },
    {
      "data": {"name": "specB"},
      "mark": {"type": "point", "filled": false, "size": 75, "strokeWidth": 0.9, "opacity": 1},
      "encoding": {
        "x": {"field": "E", "type": "quantitative", "scale": {"domain": [390, 410], "reverse": true, "nice": false, "zero": false},
          "axis": {"orient": "bottom", "values": [410,409,408,407,406,405,404,403,402,401,400,399,398,397,396,395,394,393,392,391,390], "format": "d",
            "title": "Binding Energy (eV)", "titleFontSize": 16.5, "titleFontWeight": "bold", "titleColor": "#000", "titlePadding": 12,
            "labelFontSize": 13.5, "labelFontWeight": "bold", "labelColor": "#000", "labelPadding": 6, "labelFlush": false, "labelOverlap": false,
            "labelExpr": "datum.value % 2 === 0 ? datum.label : ''",
            "domain": false, "tickColor": "#000", "tickWidth": 1.2,
            "tickSize": {"condition": {"test": "datum.value % 2 === 0", "value": -5}, "value": -3},
            "grid": true, "gridColor": "#bdbdbd", "gridWidth": 1,
            "gridOpacity": {"condition": {"test": "datum.value % 2 === 0", "value": 1}, "value": 0}}},
        "y": {"field": "I", "type": "quantitative", "scale": {"domain": [0, 324], "nice": false, "zero": false},
          "axis": {"title": "Intensity (a.u.)", "titleFontSize": 16.5, "titleFontWeight": "bold", "titleColor": "#000", "titlePadding": 12, "labels": false, "ticks": false, "domain": false, "grid": false}},
        "color": {"datum": "Spectrum", "type": "nominal",
          "scale": {"domain": ["Spectrum", "Background", "Pyrrolic", "Pyridinic", "Graphitic", "N-O"], "range": ["#333333", "#8c8c8c", "#ff0000", "#0000ff", "#008000", "#800080"]}}
      }
    },
    {
      "data": {"name": "fitB"},
      "mark": {"type": "line", "strokeWidth": 1.8, "interpolate": "monotone"},
      "encoding": {
        "x": {"field": "E", "type": "quantitative", "scale": {"domain": [390, 410], "reverse": true, "nice": false, "zero": false},
          "axis": {"orient": "top", "values": [410,409,408,407,406,405,404,403,402,401,400,399,398,397,396,395,394,393,392,391,390], "labels": false, "title": null, "domain": false, "grid": false, "tickColor": "#000", "tickWidth": 1.2,
            "tickSize": {"condition": {"test": "datum.value % 2 === 0", "value": -5}, "value": -3}}},
        "y": {"field": "I", "type": "quantitative", "scale": {"domain": [0, 324], "nice": false, "zero": false}},
        "color": {"field": "s", "type": "nominal",
          "scale": {"domain": ["Spectrum", "Background", "Pyrrolic", "Pyridinic", "Graphitic", "N-O"], "range": ["#333333", "#8c8c8c", "#ff0000", "#0000ff", "#008000", "#800080"]},
          "legend": {"title": null, "orient": "none", "legendX": 252, "legendY": 11, "fillColor": "white", "padding": 3, "symbolSize": 100, "labelFontSize": 16.5, "labelColor": "#000", "labelOffset": 29.5, "rowPadding": 4, "symbolStrokeWidth": 2,
            "encode": {"symbols": {"update": {
              "shape": {"signal": "datum.value === 'Spectrum' ? 'M 3.7,0 A 0.9,0.9 0 1,1 1.9,0 A 0.9,0.9 0 1,1 3.7,0 Z' : 'M -1,0 L 6.6,0'"},
              "strokeWidth": {"signal": "datum.value === 'Spectrum' ? 0.9 : 2"},
              "fill": {"value": "transparent"}}}}}}
      }
    },
    {
      "data": {"values": [{"label": "NDC-H", "E": 409.0, "I": 293}]},
      "mark": {"type": "text", "align": "left", "baseline": "alphabetic", "fontSize": 16.5, "fontWeight": "bold", "color": "#000"},
      "encoding": {
        "x": {"field": "E", "type": "quantitative", "scale": {"domain": [390, 410], "reverse": true, "nice": false, "zero": false}, "axis": null},
        "y": {"field": "I", "type": "quantitative", "scale": {"domain": [0, 324], "nice": false, "zero": false}},
        "text": {"field": "label"}
      }
    },
    {
      "data": {"values": [{"label": "N 1s", "E": 409.0, "I": 252}]},
      "mark": {"type": "text", "align": "left", "baseline": "alphabetic", "fontSize": 16.5, "color": "#000"},
      "encoding": {
        "x": {"field": "E", "type": "quantitative", "scale": {"domain": [390, 410], "reverse": true, "nice": false, "zero": false}, "axis": null},
        "y": {"field": "I", "type": "quantitative", "scale": {"domain": [0, 324], "nice": false, "zero": false}},
        "text": {"field": "label"}
      }
    }
  ]
}
]
}
